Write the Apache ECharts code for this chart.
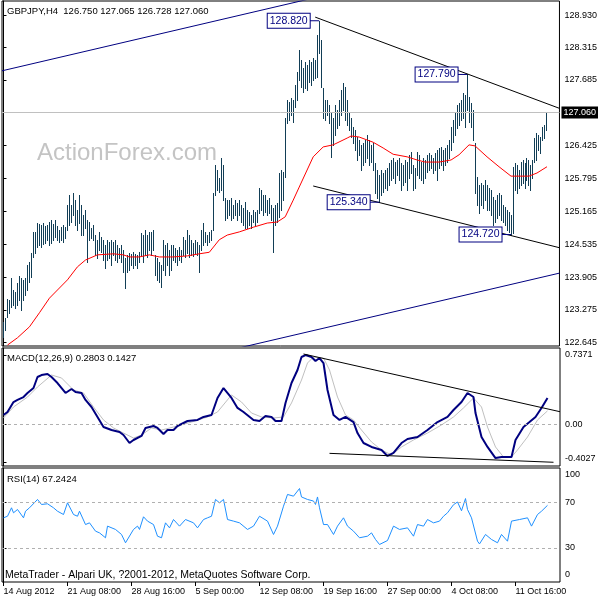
<!DOCTYPE html>
<html><head><meta charset="utf-8">
<script src="https://cdn.jsdelivr.net/npm/echarts@6/dist/echarts.min.js"></script>
<style>html,body{margin:0;padding:0;background:#fff}#c{width:600px;height:600px}</style>
</head><body><div id="c"></div><script>
const symbolName = 'GBPJPY,H4';
const lastBar = [126.750, 127.065, 126.728, 127.060];
const currentPrice = 127.060;
const highs = [
123.04,123.12,123.48,123.46,123.89,123.66,123.62,123.79,123.92,123.89,
123.85,123.89,124.14,124.19,124.37,124.77,124.77,124.94,124.92,124.90,
124.94,124.88,124.90,124.96,125.00,124.92,125.00,124.88,124.81,124.87,
124.90,124.87,125.29,125.48,125.29,125.52,125.38,125.19,125.48,125.29,
125.10,125.19,125.00,124.96,124.85,124.90,124.71,124.62,124.77,124.67,
124.62,124.52,124.62,124.58,124.62,124.58,124.62,124.52,124.46,124.52,
124.42,124.27,124.33,124.37,124.35,124.38,124.35,124.33,124.38,124.75,
124.71,124.81,124.71,124.77,124.77,124.81,124.33,124.27,124.19,124.14,
124.62,124.52,124.56,124.42,124.52,124.52,124.46,124.42,124.48,124.42,
124.67,124.62,124.81,124.71,124.62,124.56,124.62,124.58,124.52,124.81,
124.94,124.77,124.71,124.77,124.81,125.52,126.05,125.96,125.80,126.19,
126.05,125.42,125.38,125.38,125.42,125.29,125.38,125.33,125.38,125.29,
125.23,125.34,125.19,125.15,125.10,125.19,125.15,125.19,125.61,125.57,
125.48,125.48,125.38,125.42,125.29,125.23,125.29,125.33,125.90,125.96,
125.92,126.95,127.30,127.26,127.34,127.30,127.59,127.84,128.26,128.07,
127.91,128.03,127.97,128.07,128.03,128.11,128.07,128.55,128.82,128.45,
127.53,127.30,127.30,127.20,127.05,126.95,127.20,127.11,127.30,127.49,
127.63,127.55,127.30,127.05,126.95,126.78,126.72,126.59,126.53,126.44,
126.48,126.53,126.63,126.53,126.44,126.48,126.09,125.96,125.86,125.96,
125.90,125.96,126.00,126.09,126.15,126.19,126.11,126.15,126.19,126.09,
126.05,126.15,126.11,126.25,126.30,126.05,126.00,126.30,126.25,126.11,
126.19,126.15,126.25,126.28,126.25,126.19,126.28,126.34,126.38,126.40,
126.34,126.38,126.44,126.53,126.78,126.92,127.07,127.20,127.24,127.30,
127.43,127.40,127.79,127.36,127.24,127.11,126.48,125.82,125.67,125.71,
125.67,125.77,125.67,125.61,125.57,125.44,125.38,125.48,125.52,125.48,
125.29,125.25,125.19,125.15,125.10,126.02,126.09,126.05,125.96,126.11,
126.15,126.09,126.19,126.15,126.05,126.15,126.57,126.67,126.63,126.59,
126.78,126.82,127.065];
const lows = [
122.75,122.89,123.14,123.21,123.33,123.37,123.31,123.37,123.46,123.27,
123.46,123.56,123.66,123.81,123.91,124.29,124.37,124.48,124.52,124.48,
124.54,124.56,124.62,124.52,124.56,124.62,124.67,124.62,124.58,124.62,
124.58,124.65,124.81,124.90,124.96,125.10,124.90,124.81,124.94,124.71,
124.71,124.85,124.19,124.62,124.65,124.62,124.33,124.27,124.42,124.38,
124.23,124.08,124.23,124.27,124.14,124.33,124.23,124.19,124.27,124.19,
124.00,123.69,124.00,124.04,124.14,124.08,124.14,124.08,124.19,124.33,
124.19,124.33,124.29,124.42,124.33,124.42,123.94,123.85,123.81,123.71,
124.04,123.94,124.14,123.94,124.04,124.23,124.19,124.14,124.23,124.19,
124.33,124.29,124.37,124.29,124.33,124.31,124.37,124.33,124.00,124.42,
124.52,124.58,124.52,124.58,124.62,124.81,125.48,125.57,125.54,125.57,
125.38,125.00,125.04,125.10,125.00,125.04,125.10,125.00,125.10,124.96,
124.90,124.85,124.85,124.90,124.85,124.96,124.90,124.96,125.13,125.19,
125.10,125.15,125.10,125.13,125.00,124.38,124.90,124.96,125.06,125.19,
125.38,125.82,126.86,126.92,127.01,126.88,127.17,127.30,127.68,127.55,
127.45,127.53,127.49,127.65,127.59,127.68,127.72,127.74,128.20,127.55,
126.95,126.92,127.01,126.86,126.21,126.44,126.63,126.76,126.82,127.01,
127.11,126.92,126.82,126.72,126.59,126.48,126.34,126.15,126.25,125.96,
126.05,126.11,126.19,126.05,126.11,125.96,125.52,125.42,125.34,125.48,
125.54,125.61,125.57,125.67,125.77,125.80,125.71,125.86,125.77,125.57,
125.67,125.73,125.57,125.80,125.90,125.57,125.61,125.86,125.80,125.77,
125.71,125.80,125.92,125.96,125.99,125.90,125.96,125.77,125.99,126.05,
125.96,126.05,126.11,126.19,126.34,126.49,126.63,126.76,126.82,126.92,
126.95,126.78,127.11,126.88,126.78,126.53,125.52,125.29,125.13,125.29,
125.23,125.38,125.19,125.19,125.10,124.90,124.96,125.04,125.10,125.00,
124.96,124.90,124.81,124.77,124.72,124.75,125.57,125.52,125.61,125.67,
125.71,125.61,125.77,125.67,125.57,125.80,126.11,126.15,126.34,126.28,
126.53,126.57,126.728];
const maPts = [[2,122.60],[7,122.74],[13,122.95],[18,123.22],[23,123.50],[32,123.85],[37,124.10],[41,124.23],[47,124.33],[55,124.35],[60,124.33],[63,124.29],[68,124.29],[73,124.33],[78,124.29],[85,124.29],[92,124.31],[98,124.35],[103,124.38],[108,124.62],[112,124.71],[118,124.77],[125,124.86],[132,124.94],[137,124.96],[141,125.06],[145,125.38],[148,125.63],[155,126.21],[160,126.40],[165,126.44],[172,126.57],[174,126.61],[178,126.59],[185,126.49],[190,126.38],[195,126.26],[202,126.21],[207,126.15],[211,126.11],[218,126.11],[224,126.15],[228,126.25],[233,126.44],[236,126.42],[242,126.21],[248,126.02],[254,125.84],[263,125.84],[267,125.90],[272,126.02]];
const priceTicks = [122.645,123.275,123.905,124.535,125.165,125.795,126.425,127.685,128.315,128.930];
const blueTrends = [[[-0.75,127.86],[160,129.30]], [[119,122.555],[278.25,123.98]]];
const blackTrends = [[[156,128.89],[278.25,127.14]], [[155,125.651],[278.25,124.467]]];
const priceMarks = [[158,128.82,'128.820'],[232,127.79,'127.790'],[188,125.34,'125.340'],[254,124.72,'124.720']];

const macdLast = [0.2803, 0.1427];
const macdMain = [[0,0.099],[2,0.131],[5,0.237],[7,0.259],[10,0.290],[12,0.333],[15,0.386],[17,0.503],[19,0.524],[22,0.535],[24,0.503],[27,0.439],[31,0.333],[34,0.376],[36,0.344],[39,0.333],[41,0.259],[44,0.184],[47,0.078],[50,-0.029],[54,-0.061],[58,-0.082],[60,-0.114],[63,-0.199],[65,-0.167],[69,-0.124],[71,-0.039],[75,-0.018],[77,-0.039],[80,-0.103],[82,-0.061],[85,-0.061],[87,-0.018],[92,0.035],[97,0.046],[100,0.078],[104,0.099],[107,0.280],[110,0.386],[114,0.280],[117,0.174],[120,0.131],[125,0.046],[128,0.035],[131,0.088],[134,0.078],[136,0.035],[139,0.035],[141,0.227],[144,0.439],[147,0.578],[149,0.716],[151,0.737],[154,0.716],[156,0.673],[158,0.705],[160,0.652],[162,0.365],[165,0.099],[168,0.046],[171,0.078],[175,0.024],[177,-0.093],[180,-0.199],[184,-0.241],[189,-0.273],[192,-0.337],[195,-0.305],[199,-0.199],[202,-0.156],[207,-0.135],[212,-0.061],[217,0.024],[222,0.078],[225,0.152],[229,0.237],[232,0.333],[235,0.290],[236,0.120],[239,-0.135],[242,-0.241],[246,-0.359],[249,-0.348],[254,-0.348],[256,-0.167],[260,-0.029],[263,0.024],[266,0.078],[269,0.174],[272,0.2803]];
const macdSignal = [[0,0.067],[5,0.184],[12,0.290],[17,0.397],[24,0.524],[29,0.493],[35,0.365],[40,0.333],[45,0.184],[50,0.046],[55,-0.039],[60,-0.093],[65,-0.146],[69,-0.114],[74,-0.039],[79,-0.061],[85,-0.029],[94,0.024],[102,0.078],[107,0.131],[114,0.312],[119,0.237],[124,0.120],[129,0.078],[135,0.067],[140,0.078],[144,0.227],[149,0.471],[152,0.652],[155,0.716],[160,0.705],[163,0.578],[167,0.290],[171,0.099],[175,0.046],[179,-0.061],[184,-0.188],[189,-0.273],[194,-0.326],[199,-0.241],[205,-0.167],[212,-0.093],[219,-0.007],[225,0.078],[230,0.174],[235,0.280],[239,0.184],[242,-0.029],[246,-0.241],[250,-0.348],[254,-0.348],[257,-0.273],[262,-0.135],[267,0.046],[272,0.1427]];
const macdTicks = [0.7371, 0, -0.4027];
const macdTrends = [[[150,0.748],[278.25,0.134]], [[163,-0.309],[275,-0.404]]];

const rsiLast = 67.2424;
const rsi = [[0,56.3],[2,57.7],[4,65.1],[5,60.7],[7,63.6],[8,62.1],[10,56.3],[11,62.1],[13,65.1],[17,72.4],[19,68.0],[22,68.6],[25,65.1],[27,62.1],[30,59.2],[32,69.5],[35,59.2],[37,57.7],[38,62.1],[41,50.4],[43,51.9],[46,44.6],[48,43.1],[51,38.8],[52,49.0],[56,46.1],[59,41.7],[61,34.4],[62,35.8],[65,46.1],[67,49.0],[68,46.1],[70,57.2],[72,53.4],[75,50.4],[77,40.2],[79,38.8],[81,51.9],[83,47.5],[85,54.8],[88,49.0],[91,54.8],[92,56.3],[95,51.9],[97,47.5],[100,54.8],[102,56.3],[104,57.7],[106,72.4],[108,69.5],[110,72.4],[112,54.8],[115,53.4],[118,51.9],[122,46.1],[125,49.0],[128,57.7],[132,53.4],[133,51.9],[135,41.7],[137,49.0],[140,66.5],[142,76.8],[145,75.3],[148,82.0],[149,74.6],[152,72.4],[155,71.0],[156,68.0],[157,74.6],[158,65.1],[160,50.4],[162,50.4],[165,41.7],[167,49.0],[170,56.3],[172,49.0],[175,44.6],[178,38.8],[182,40.2],[184,43.1],[186,37.3],[188,32.9],[192,36.4],[193,35.8],[195,49.0],[198,46.1],[202,47.5],[205,40.2],[207,50.4],[210,49.0],[212,54.8],[215,51.9],[218,53.4],[220,57.7],[222,60.7],[225,67.8],[227,70.2],[229,62.5],[231,73.2],[232,63.6],[234,56.3],[237,35.8],[238,33.4],[241,41.7],[244,37.3],[247,34.4],[249,41.7],[252,35.8],[254,53.4],[258,54.8],[262,56.3],[264,49.0],[267,59.2],[269,62.1],[272,67.2424]];
const rsiTicks = [100, 70, 30, 0];
const rsiLevels = [70, 30];

const dateIdx = [0,32,64,96,128,160,192,224,256];
const dateLabels = ['14 Aug 2012','21 Aug 08:00','28 Aug 16:00','5 Sep 00:00','12 Sep 08:00','19 Sep 16:00','27 Sep 00:00','4 Oct 08:00','11 Oct 16:00'];
const copyright = 'MetaTrader - Alpari UK, ?2001-2012, MetaQuotes Software Corp.';
const watermark = 'ActionForex.com';

const FONT = '"Liberation Sans", Arial, sans-serif';
const chart = echarts.init(document.getElementById('c'), null, {renderer:'canvas'});
const XMIN = -0.75, XMAX = 278.25;

function xAx(gi, show) {
  const a = {type:'value', gridIndex:gi, min:XMIN, max:XMAX, splitLine:{show:false}, axisLine:{show:false}};
  if (!show) { a.axisLabel = {show:false}; a.axisTick = {show:false}; return a; }
  a.axisTick = {show:true, length:4, lineStyle:{color:'#000'}, customValues: dateIdx};
  a.axisLabel = {show:true, customValues: dateIdx, align:'left', margin:5, fontSize:9, fontFamily:FONT, color:'#000',
    formatter: v => dateLabels[dateIdx.indexOf(Math.round(v))] || ''};
  return a;
}
function yAx(gi, min, max, ticks, tickVals, fmt, rich) {
  return {type:'value', gridIndex:gi, position:'right', min:min, max:max, scale:true,
    splitLine:{show:false},
    axisLine:{show:true, lineStyle:{color:'#000', width:1}},
    axisTick:{show:true, length:3, lineStyle:{color:'#000'}, customValues: tickVals},
    axisLabel:{show:true, customValues: ticks, margin:5, fontSize:9, fontFamily:FONT, color:'#000', formatter: fmt, rich: rich || {}}};
}
function seg(pts, color, xi, width) {
  return {type:'line', xAxisIndex:xi, yAxisIndex:xi, data:pts, showSymbol:false, silent:true, z:5,
    lineStyle:{color:color, width:width||1}, clip:true};
}

const series = [];
series.push({type:'line', xAxisIndex:0, yAxisIndex:0, data:[], z:1, silent:true,
  markLine:{symbol:'none', silent:true, animation:false, data:[{yAxis:currentPrice}],
    lineStyle:{color:'#c0c0c0', type:'solid', width:1},
    label:{show:true, position:'end', distance:2, formatter: currentPrice.toFixed(3), color:'#fff', backgroundColor:'#000',
      padding:[2,2,1,2], fontSize:9, fontFamily:FONT}}});
series.push({type:'custom', xAxisIndex:0, yAxisIndex:0, silent:true, z:3, clip:true,
  data: highs.map((h,i)=>[i,h,lows[i]]),
  encode:{x:0, y:[1,2]},
  renderItem:(params, api)=>{
    const i = api.value(0);
    const p1 = api.coord([i, api.value(1)]);
    const p2 = api.coord([i, api.value(2)]);
    const x = Math.floor(p1[0]) + 0.5;
    return {type:'line', shape:{x1:x, y1:Math.round(p1[1]), x2:x, y2:Math.round(p2[1])+1},
      style:{stroke:'#123e56', lineWidth:1}};
  }});
series.push({type:'line', xAxisIndex:0, yAxisIndex:0, data:maPts, showSymbol:false, silent:true, z:4,
  lineStyle:{color:'#ff0000', width:1}});
blueTrends.forEach(t=>series.push(seg(t, '#000080', 0, 1)));
blackTrends.forEach(t=>series.push(seg(t, '#000000', 0, 1)));
priceMarks.forEach(m=>series.push(seg([[m[0]-5,m[1]],[m[0],m[1]]], '#000080', 0, 1)));
series.push({type:'scatter', xAxisIndex:0, yAxisIndex:0, silent:true, z:8, symbolSize:1,
  itemStyle:{color:'rgba(255,255,255,0)', opacity:1},
  data: priceMarks.map(m=>({value:[m[0],m[1]], name:m[2]})),
  label:{show:true, position:'left', distance:9, formatter:'{b}', color:'#000080', backgroundColor:'#ffffff',
    borderColor:'#000080', borderWidth:1, textBorderWidth:0, textShadowBlur:0, opacity:1,
    padding:[2,2,1,2], fontSize:10.5, fontFamily:FONT}});

series.push({type:'line', xAxisIndex:1, yAxisIndex:1, data:[], z:1, silent:true,
  markLine:{symbol:'none', silent:true, animation:false, data:[{yAxis:0}], label:{show:false},
    lineStyle:{color:'#b0b0b0', type:[3,3], width:1}}});
series.push({type:'line', xAxisIndex:1, yAxisIndex:1, data:macdSignal, showSymbol:false, silent:true, z:3,
  lineStyle:{color:'#c0c0c0', width:1}});
series.push({type:'line', xAxisIndex:1, yAxisIndex:1, data:macdMain, showSymbol:false, silent:true, z:4,
  lineStyle:{color:'#000080', width:2}});
macdTrends.forEach(t=>series.push(seg(t, '#000000', 1, 1)));

series.push({type:'line', xAxisIndex:2, yAxisIndex:2, data:[], z:1, silent:true,
  markLine:{symbol:'none', silent:true, animation:false, data:rsiLevels.map(v=>({yAxis:v})), label:{show:false},
    lineStyle:{color:'#b0b0b0', type:[3,3], width:1}}});
series.push({type:'line', xAxisIndex:2, yAxisIndex:2, data:rsi, showSymbol:false, silent:true, z:4,
  lineStyle:{color:'#1e90ff', width:1}});

const gridBase = {show:true, borderColor:'#000', borderWidth:1, backgroundColor:'rgba(0,0,0,0)', containLabel:false};
chart.setOption({
  animation:false,
  backgroundColor:'#fff',
  grid:[
    Object.assign({left:2, top:1, width:558, height:345}, gridBase),
    Object.assign({left:2, top:348, width:558, height:118}, gridBase),
    Object.assign({left:2, top:468, width:558, height:114}, gridBase)
  ],
  xAxis:[xAx(0,false), xAx(1,false), xAx(2,true)],
  yAxis:[
    yAx(0, 122.582, 129.199, priceTicks, priceTicks, v=>v.toFixed(3)),
    yAx(1, -0.4436, 0.8117, macdTicks, macdTicks, v=>{
      if (Math.abs(v) < 1e-9) return '0.00';
      if (v < 0) return '{lo|' + v.toFixed(4) + '}';
      return v.toFixed(4);
    }, {lo:{padding:[0,0,8,0], fontSize:9, fontFamily:FONT, color:'#000'}}),
    yAx(2, 0, 100, rsiTicks, rsiLevels, v=>{
      if (v === 100) return '{hi|100}';
      if (v === 0) return '{lo|0}';
      return String(v);
    }, {hi:{padding:[14,0,0,0], fontSize:9, fontFamily:FONT, color:'#000'}, lo:{padding:[0,0,14,0], fontSize:9, fontFamily:FONT, color:'#000'}})
  ],
  graphic:[
    {type:'text', x:37, y:153, z:0, silent:true, style:{text:watermark, font:'24px ' + FONT, fill:'#c4c4c4', verticalAlign:'middle'}},
    {type:'text', x:7, y:11, z:10, silent:true, style:{text: symbolName + '  ' + lastBar.map(v=>v.toFixed(3)).join(' '), font:'9.5px ' + FONT, fill:'#000', verticalAlign:'middle'}},
    {type:'text', x:7, y:358, z:10, silent:true, style:{text:'MACD(12,26,9) ' + macdLast.map(v=>v.toFixed(4)).join(' '), font:'9.5px ' + FONT, fill:'#000', verticalAlign:'middle'}},
    {type:'text', x:7, y:479, z:10, silent:true, style:{text:'RSI(14) ' + rsiLast.toFixed(4), font:'9.5px ' + FONT, fill:'#000', verticalAlign:'middle'}},
    {type:'text', x:5, y:575, z:10, silent:true, style:{text:copyright, font:'10.5px ' + FONT, fill:'#000', verticalAlign:'middle'}}
  ],
  series: series
});
</script></body></html>
